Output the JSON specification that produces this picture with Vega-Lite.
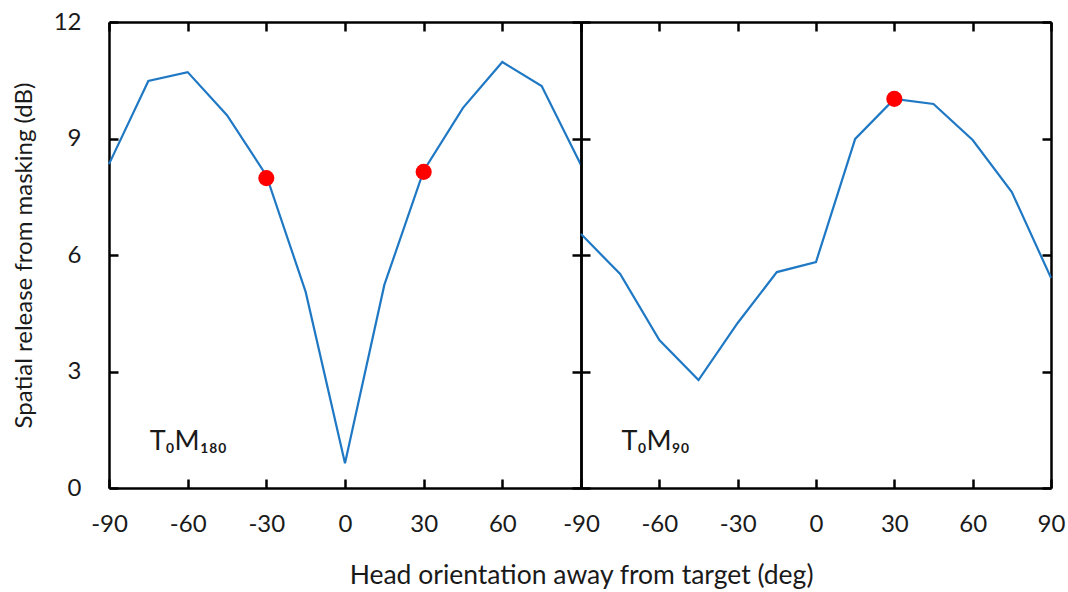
{
  "$schema": "https://vega.github.io/schema/vega-lite/v6.json",
  "background": "white",
  "padding": {"left": 12, "top": 10, "right": 10, "bottom": 2},
  "bounds": "flush",
  "datasets": {
    "left": [
      {"deg": -90, "srm": 8.34}, {"deg": -75, "srm": 10.48}, {"deg": -60, "srm": 10.71},
      {"deg": -45, "srm": 9.6}, {"deg": -30, "srm": 8.05}, {"deg": -15, "srm": 5.05},
      {"deg": 0, "srm": 0.64}, {"deg": 15, "srm": 5.23}, {"deg": 30, "srm": 8.17},
      {"deg": 45, "srm": 9.79}, {"deg": 60, "srm": 10.97}, {"deg": 75, "srm": 10.35},
      {"deg": 90, "srm": 8.32}
    ],
    "right": [
      {"deg": -90, "srm": 6.54}, {"deg": -75, "srm": 5.51}, {"deg": -60, "srm": 3.81},
      {"deg": -45, "srm": 2.78}, {"deg": -30, "srm": 4.25}, {"deg": -15, "srm": 5.56},
      {"deg": 0, "srm": 5.82}, {"deg": 15, "srm": 8.99}, {"deg": 30, "srm": 10.02},
      {"deg": 45, "srm": 9.89}, {"deg": 60, "srm": 8.96}, {"deg": 75, "srm": 7.62},
      {"deg": 90, "srm": 5.41}
    ],
    "leftDots": [{"deg": -30, "srm": 7.98}, {"deg": 30, "srm": 8.14}],
    "rightDots": [{"deg": 30, "srm": 10.02}],
    "leftLabel": [{"deg": -74.5, "srm": 0.97, "text": "T₀M₁₈₀"}],
    "rightLabel": [{"deg": -74.5, "srm": 0.97, "text": "T₀M₉₀"}]
  },
  "spacing": 0,
  "title": {
    "text": "Head orientation away from target (deg)",
    "orient": "bottom",
    "anchor": "middle",
    "font": "Lato",
    "fontSize": 26.5,
    "fontWeight": "normal",
    "color": "#1a1a1a",
    "offset": 27,
    "dx": 43
  },
  "hconcat": [
    {
      "width": 472,
      "height": 466,
      "layer": [
        {
          "data": {"name": "left"},
          "mark": {"type": "line", "color": "#1F78C4", "strokeWidth": 2.2},
          "encoding": {
            "x": {"field": "deg", "type": "quantitative", "scale": {"domain": [-90, 90], "nice": false, "zero": false},
              "axis": {"orient": "bottom", "title": null, "values": [-90, -60, -30, 0, 30, 60, 90], "labelExpr": "datum.value == 90 ? '' : replace(datum.label, '−', '-')"}},
            "y": {"field": "srm", "type": "quantitative", "scale": {"domain": [0, 12], "nice": false},
              "axis": {"orient": "left", "title": "Spatial release from masking (dB)", "values": [0, 3, 6, 9, 12], "labelPadding": 37}}
          }
        },
        {
          "data": {"name": "leftDots"},
          "mark": {"type": "circle", "color": "#FF0000", "size": 260, "opacity": 1},
          "encoding": {
            "x": {"field": "deg", "type": "quantitative", "scale": {"domain": [-90, 90], "nice": false, "zero": false},
              "axis": {"orient": "top", "title": null, "labels": false, "values": [-90, -60, -30, 0, 30, 60, 90]}},
            "y": {"field": "srm", "type": "quantitative", "scale": {"domain": [0, 12], "nice": false},
              "axis": {"orient": "right", "title": null, "labels": false, "values": [0, 3, 6, 9, 12]}}
          }
        },
        {
          "data": {"name": "leftLabel"},
          "mark": {"type": "text", "align": "left", "baseline": "alphabetic", "font": "Lato", "fontSize": 27, "color": "#1a1a1a"},
          "encoding": {
            "x": {"field": "deg", "type": "quantitative", "axis": null},
            "y": {"field": "srm", "type": "quantitative", "axis": null},
            "text": {"field": "text"}
          }
        }
      ],
      "resolve": {"axis": {"x": "independent", "y": "independent"}}
    },
    {
      "width": 470,
      "height": 466,
      "layer": [
        {
          "data": {"name": "right"},
          "mark": {"type": "line", "color": "#1F78C4", "strokeWidth": 2.2},
          "encoding": {
            "x": {"field": "deg", "type": "quantitative", "scale": {"domain": [-90, 90], "nice": false, "zero": false},
              "axis": {"orient": "bottom", "title": null, "values": [-90, -60, -30, 0, 30, 60, 90], "labelExpr": "replace(datum.label, '−', '-')"}},
            "y": {"field": "srm", "type": "quantitative", "scale": {"domain": [0, 12], "nice": false},
              "axis": {"orient": "left", "title": null, "labels": false, "values": [0, 3, 6, 9, 12]}}
          }
        },
        {
          "data": {"name": "rightDots"},
          "mark": {"type": "circle", "color": "#FF0000", "size": 260, "opacity": 1},
          "encoding": {
            "x": {"field": "deg", "type": "quantitative", "scale": {"domain": [-90, 90], "nice": false, "zero": false},
              "axis": {"orient": "top", "title": null, "labels": false, "values": [-90, -60, -30, 0, 30, 60, 90]}},
            "y": {"field": "srm", "type": "quantitative", "scale": {"domain": [0, 12], "nice": false},
              "axis": {"orient": "right", "title": null, "labels": false, "values": [0, 3, 6, 9, 12]}}
          }
        },
        {
          "data": {"name": "rightLabel"},
          "mark": {"type": "text", "align": "left", "baseline": "alphabetic", "font": "Lato", "fontSize": 27, "color": "#1a1a1a"},
          "encoding": {
            "x": {"field": "deg", "type": "quantitative", "axis": null},
            "y": {"field": "srm", "type": "quantitative", "axis": null},
            "text": {"field": "text"}
          }
        }
      ],
      "resolve": {"axis": {"x": "independent", "y": "independent"}}
    }
  ],
  "config": {
    "view": {"stroke": null},
    "axis": {
      "grid": false,
      "domainColor": "black",
      "domainWidth": 2.5,
      "tickColor": "black",
      "tickWidth": 2.5,
      "tickSize": -9,
      "labelFont": "Lato",
      "labelFontSize": 24,
      "labelColor": "#1a1a1a",
      "labelFlush": false,
      "labelOverlap": false,
      "labelPadding": 33,
      "titleFont": "Lato",
      "titleFontSize": 24,
      "titleFontWeight": "normal",
      "titleColor": "#1a1a1a",
      "titlePadding": 17
    }
  }
}
